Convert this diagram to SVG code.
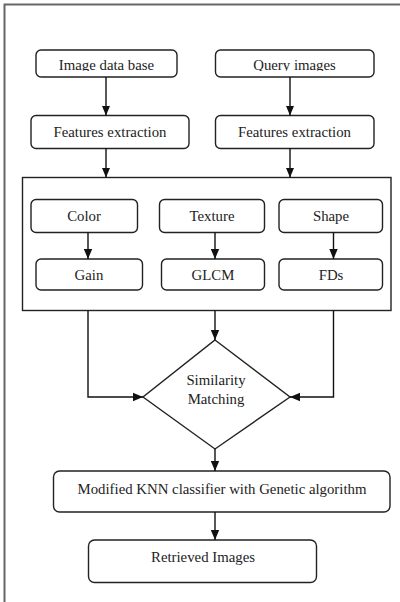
<svg xmlns="http://www.w3.org/2000/svg" width="400" height="602" viewBox="0 0 400 602">
  <style>
    .box { fill: #fff; stroke: #222; stroke-width: 1.4; }
    .frame { fill: none; stroke: #666; stroke-width: 2; }
    .wire { fill: none; stroke: #111; stroke-width: 1.4; }
    text { font-family: "Liberation Serif", Tinos, "Times New Roman", "DejaVu Serif", serif; font-size: 14.8px; fill: #222; text-anchor: middle; }
  </style>
  <defs>
    <marker id="arrow" markerUnits="userSpaceOnUse" markerWidth="10" markerHeight="10" refX="10" refY="5" orient="auto">
      <path d="M0,0.8 L10,5 L0,9.2 Z" fill="#111"/>
    </marker>
    <clipPath id="topClip">
      <rect x="0" y="0" width="400" height="71"/>
    </clipPath>
  </defs>

  <!-- page frame -->
  <path class="frame" d="M4.5,610 V4.5 H410"/>

  <g id="image-database">
    <rect class="box" x="36" y="50" width="141" height="27" rx="5"/>
    <text x="106.5" y="70" clip-path="url(#topClip)">Image data base</text>
  </g>
  <g id="query-images">
    <rect class="box" x="215.5" y="50" width="158.5" height="27" rx="5"/>
    <text x="294.5" y="70" clip-path="url(#topClip)">Query images</text>
  </g>
  <g id="features-left">
    <rect class="box" x="31" y="115.5" width="158" height="33" rx="5"/>
    <text x="110" y="137">Features extraction</text>
  </g>
  <g id="features-right">
    <rect class="box" x="215.5" y="115.5" width="158.5" height="33" rx="5"/>
    <text x="294.5" y="137">Features extraction</text>
  </g>

  <g id="feature-panel">
    <rect class="box" x="22.5" y="177.5" width="368.5" height="133"/>
  </g>
  <g id="color">
    <rect class="box" x="31" y="199.5" width="106.5" height="33" rx="5"/>
    <text x="84" y="220.5">Color</text>
  </g>
  <g id="texture">
    <rect class="box" x="159.5" y="199.5" width="105" height="33" rx="5"/>
    <text x="212" y="220.5">Texture</text>
  </g>
  <g id="shape">
    <rect class="box" x="279" y="199.5" width="103.5" height="33" rx="5"/>
    <text x="331" y="220.5">Shape</text>
  </g>
  <g id="gain">
    <rect class="box" x="36" y="259" width="106.5" height="31" rx="5"/>
    <text x="89" y="280">Gain</text>
  </g>
  <g id="glcm">
    <rect class="box" x="161.5" y="259" width="103" height="31" rx="5"/>
    <text x="213" y="280">GLCM</text>
  </g>
  <g id="fds">
    <rect class="box" x="279" y="259" width="103.5" height="31" rx="5"/>
    <text x="331" y="280">FDs</text>
  </g>

  <g id="similarity-matching">
    <path class="box" d="M215,340 L290,397 L215,449 L143,397 Z"/>
    <text x="216" y="385">Similarity</text>
    <text x="216" y="403.5">Matching</text>
  </g>

  <g id="knn-classifier">
    <rect class="box" x="53.5" y="471" width="336.5" height="41" rx="6"/>
    <text x="222" y="493.5">Modified KNN classifier with Genetic algorithm</text>
  </g>
  <g id="retrieved-images">
    <rect class="box" x="88.5" y="540" width="228" height="42.5" rx="6"/>
    <text x="203" y="561.5">Retrieved Images</text>
  </g>

  <g id="connectors">
    <path class="wire" marker-end="url(#arrow)" d="M106,77 V115.5"/>
    <path class="wire" marker-end="url(#arrow)" d="M290,77 V115.5"/>
    <path class="wire" marker-end="url(#arrow)" d="M106,148.5 V177.5"/>
    <path class="wire" marker-end="url(#arrow)" d="M290,148.5 V177.5"/>
    <path class="wire" marker-end="url(#arrow)" d="M88,232.5 V259"/>
    <path class="wire" marker-end="url(#arrow)" d="M215,232.5 V259"/>
    <path class="wire" marker-end="url(#arrow)" d="M333.5,232.5 V259"/>
    <path class="wire" marker-end="url(#arrow)" d="M88,310.5 V397 H143"/>
    <path class="wire" marker-end="url(#arrow)" d="M215,310.5 V340"/>
    <path class="wire" marker-end="url(#arrow)" d="M333.5,310.5 V397 H290"/>
    <path class="wire" marker-end="url(#arrow)" d="M215,449 V471"/>
    <path class="wire" marker-end="url(#arrow)" d="M215,512 V540"/>
  </g>
</svg>
